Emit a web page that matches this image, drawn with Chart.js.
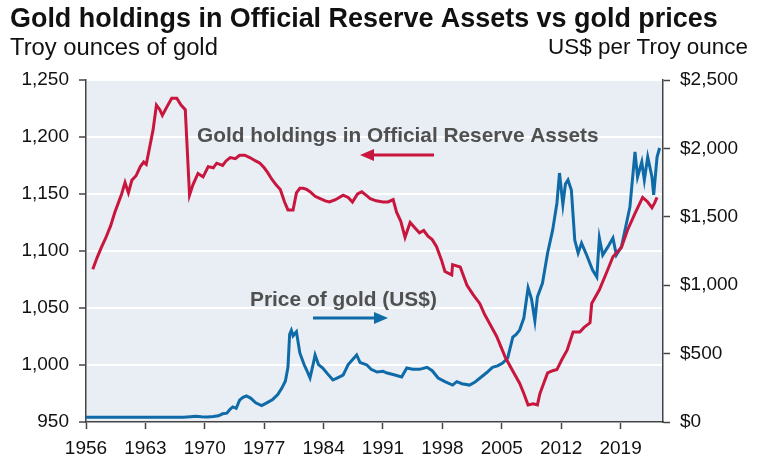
<!DOCTYPE html>
<html>
<head>
<meta charset="utf-8">
<script src="https://cdn.jsdelivr.net/npm/chart.js@4.4.1/dist/chart.umd.min.js"></script>
<style>
  html, body { margin: 0; padding: 0; background: #fff; }
  #wrap { width: 766px; height: 456px; position: relative; }
</style>
</head>
<body>
<div id="wrap"><canvas id="goldChart"></canvas></div>
<script>
// Official reserve gold holdings (left axis, troy ounces)
const reserveYears = [1956.8,1957.3,1957.8,1958.3,1958.9,1959.4,1959.8,1960.2,1960.6,1961.0,1961.4,1961.9,1962.4,1962.8,1963.1,1963.5,1963.9,1964.3,1964.7,1965.0,1965.5,1966.1,1966.7,1967.2,1967.7,1968.2,1968.6,1969.2,1969.8,1970.4,1971.0,1971.4,1972.1,1972.5,1973.0,1973.6,1974.1,1974.7,1975.3,1976.0,1976.5,1977.0,1977.4,1977.9,1978.4,1978.9,1979.4,1979.8,1980.4,1980.8,1981.2,1981.6,1982.0,1982.4,1983.0,1983.6,1984.2,1984.7,1985.4,1986.3,1986.9,1987.4,1988.0,1988.5,1989.0,1989.5,1990.2,1991.0,1991.6,1992.2,1992.6,1993.1,1993.6,1994.2,1994.8,1995.3,1995.8,1996.3,1996.8,1997.3,1997.9,1998.3,1999.1,1999.2,2000.1,2000.9,2001.6,2002.4,2003.0,2003.6,2004.4,2005.4,2006.2,2007.1,2007.6,2008.1,2008.7,2009.2,2009.5,2010.0,2010.4,2011.0,2011.5,2012.1,2012.7,2013.4,2014.2,2014.7,2015.4,2015.6,2016.5,2017.4,2018.1,2019.1,2019.8,2020.7,2021.6,2022.2,2022.7,2023.0,2023.3];
const reserveOunces = [1084,1094,1103,1111,1122,1134,1142,1150,1160,1151,1162,1166,1174,1178,1176,1191,1206,1228,1224,1219,1226,1234,1234,1228,1224,1149,1158,1168,1165,1174,1173,1177,1175,1179,1182,1181,1184,1184,1182,1179,1177,1173,1169,1163,1158,1154,1143,1136,1136,1151,1155,1155,1154,1152,1148,1146,1144,1143,1145,1149,1147,1143,1150,1152,1149,1146,1144,1143,1143,1145,1134,1126,1112,1125,1120,1116,1118,1113,1110,1104,1092,1082,1079,1088,1086,1070,1062,1054,1044,1036,1025,1007,996,984,975,965,966,965,975,985,993,995,996,1005,1013,1029,1029,1033,1037,1054,1066,1082,1095,1103,1118,1133,1147,1143,1138,1142,1147];

// Gold price (right axis, US$ per troy ounce)
const priceYears = [1956.0,1960.0,1964.0,1967.5,1968.3,1968.9,1969.6,1970.3,1971.0,1971.6,1972.1,1972.6,1973.0,1973.3,1973.7,1974.1,1974.5,1974.9,1975.4,1976.0,1976.7,1977.3,1978.0,1978.6,1979.1,1979.5,1979.8,1980.0,1980.2,1980.4,1980.8,1981.2,1981.7,1982.0,1982.4,1982.8,1983.0,1983.4,1983.9,1984.5,1985.1,1985.7,1986.3,1986.9,1987.4,1987.9,1988.3,1989.1,1989.6,1990.3,1991.0,1991.5,1992.3,1993.2,1993.8,1994.5,1995.3,1996.2,1996.8,1997.5,1998.3,1999.2,1999.7,2000.3,2001.2,2001.8,2002.4,2003.2,2003.9,2004.5,2005.1,2005.7,2006.3,2006.7,2007.1,2007.6,2008.1,2008.5,2008.9,2009.2,2009.8,2010.4,2011.0,2011.5,2011.8,2012.2,2012.5,2012.8,2013.2,2013.6,2014.0,2014.4,2015.0,2015.7,2016.0,2016.2,2016.5,2016.9,2017.5,2018.1,2018.5,2019.1,2019.7,2020.1,2020.7,2021.0,2021.5,2021.8,2022.2,2022.7,2022.9,2023.3,2023.6];
const priceUsd = [35,35,35,35,39,42,38,36,40,45,60,65,95,110,100,160,180,190,175,140,120,140,165,200,250,300,400,640,670,630,660,505,420,380,322,430,490,420,395,350,307,325,343,420,455,490,435,417,385,365,370,358,345,329,395,385,385,400,375,322,295,270,295,280,270,290,320,360,400,410,431,468,620,640,672,760,980,900,740,914,1016,1235,1404,1601,1820,1590,1740,1769,1696,1330,1235,1308,1221,1111,1080,1060,1345,1221,1280,1345,1221,1280,1455,1572,1974,1791,1900,1769,1937,1791,1660,1937,2003];

const xTicks = [1956,1963,1970,1977,1984,1991,1998,2005,2012,2019];
const FONT = "'Liberation Sans', Arial, sans-serif";

function toPoints(xs, ys) {
  return xs.map((x, i) => ({ x: x, y: ys[i] }));
}

// write text stretched to a given pixel width
function fitText(ctx, text, weight, x, y, width, align) {
  ctx.font = weight + ' 100px ' + FONT;
  const size = 100 * width / ctx.measureText(text).width;
  ctx.font = weight + ' ' + size + 'px ' + FONT;
  ctx.textAlign = align;
  ctx.textBaseline = 'middle';
  ctx.fillText(text, x, y);
}

function arrow(ctx, x1, x2, y, color) {
  const dir = x2 > x1 ? 1 : -1;
  ctx.strokeStyle = color;
  ctx.fillStyle = color;
  ctx.lineWidth = 3;
  ctx.beginPath();
  ctx.moveTo(x1, y);
  ctx.lineTo(x2 - dir * 10, y);
  ctx.stroke();
  ctx.beginPath();
  ctx.moveTo(x2, y);
  ctx.lineTo(x2 - dir * 14, y - 6);
  ctx.lineTo(x2 - dir * 14, y + 6);
  ctx.closePath();
  ctx.fill();
}

const decorations = {
  id: 'decorations',
  beforeDraw(chart) {
    const { ctx, chartArea: a } = chart;
    ctx.save();
    ctx.fillStyle = '#e8eef3';
    ctx.fillRect(a.left, a.top, a.right - a.left, a.bottom - a.top);
    ctx.restore();
  },
  afterDraw(chart) {
    const ctx = chart.ctx;
    ctx.save();
    ctx.fillStyle = '#111';
    fitText(ctx, 'Gold holdings in Official Reserve Assets vs gold prices', 'bold', 10, 20, 708, 'left');
    fitText(ctx, 'Troy ounces of gold', 'normal', 10, 48, 208, 'left');
    fitText(ctx, 'US$ per Troy ounce', 'normal', 748, 48, 200, 'right');

    ctx.fillStyle = '#505050';
    fitText(ctx, 'Gold holdings in Official Reserve Assets', 'bold', 197, 136, 402, 'left');
    fitText(ctx, 'Price of gold (US$)', 'bold', 250, 300, 187, 'left');
    arrow(ctx, 434, 360, 155, '#c8163e');
    arrow(ctx, 313, 388, 318, '#0f6aa8');
    ctx.restore();
  }
};

new Chart(document.getElementById('goldChart'), {
  type: 'line',
  data: {
    datasets: [
      {
        label: 'Gold holdings in Official Reserve Assets',
        data: toPoints(reserveYears, reserveOunces),
        yAxisID: 'yLeft',
        borderColor: '#c8163e',
        borderWidth: 3,
        pointRadius: 0,
        tension: 0
      },
      {
        label: 'Price of gold (US$)',
        data: toPoints(priceYears, priceUsd),
        yAxisID: 'yRight',
        borderColor: '#0f6aa8',
        borderWidth: 3,
        pointRadius: 0,
        tension: 0
      }
    ]
  },
  options: {
    responsive: true,
    maintainAspectRatio: false,
    animation: false,
    layout: { padding: { top: 80, left: 0, right: 0, bottom: 0 } },
    plugins: {
      legend: { display: false },
      tooltip: { enabled: false }
    },
    scales: {
      x: {
        type: 'linear',
        min: 1956,
        max: 2024,
        afterBuildTicks: s => { s.ticks = xTicks.map(v => ({ value: v })); },
        afterFit: s => { s.height = 34; },
        grid: { drawOnChartArea: false, tickLength: 7, tickColor: '#444', tickWidth: 1.5 },
        border: { color: '#444', width: 1.5 },
        ticks: {
          padding: 8,
          color: '#111',
          font: { family: FONT, size: 19 },
          maxRotation: 0,
          autoSkip: false,
          callback: v => String(v)
        }
      },
      yLeft: {
        position: 'left',
        min: 950,
        max: 1250,
        afterFit: s => { s.width = 86; },
        ticks: {
          stepSize: 50,
          padding: 10,
          color: '#111',
          font: { family: FONT, size: 19 },
          callback: v => v.toLocaleString('en-US')
        },
        grid: { color: '#ffffff', lineWidth: 2, tickLength: 7, tickColor: '#444', tickWidth: 1.5 },
        border: { color: '#444', width: 1.5 }
      },
      yRight: {
        position: 'right',
        min: 0,
        max: 2500,
        afterFit: s => { s.width = 103; },
        ticks: {
          stepSize: 500,
          padding: 10,
          color: '#111',
          font: { family: FONT, size: 19 },
          callback: v => '$' + v.toLocaleString('en-US')
        },
        grid: { drawOnChartArea: false, tickLength: 7, tickColor: '#444', tickWidth: 1.5 },
        border: { color: '#444', width: 1.5 }
      }
    }
  },
  plugins: [decorations]
});
</script>
</body>
</html>
